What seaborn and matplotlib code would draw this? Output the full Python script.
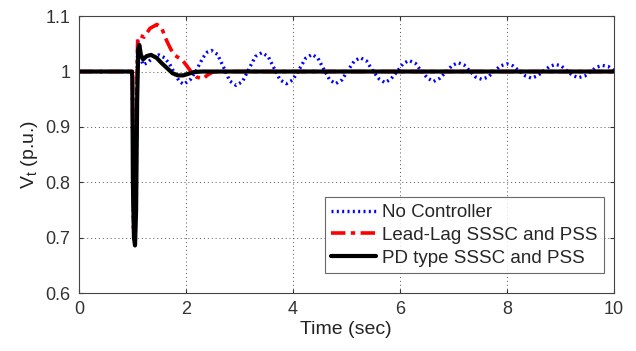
import matplotlib
matplotlib.use('Agg')
import matplotlib.pyplot as plt
import pandas as pd
import seaborn as sns

# values
t_none = [0.0, 1.0, 1.02, 1.05, 1.08, 1.10, 1.14, 1.20, 1.28, 1.40, 1.50, 1.60, 1.70, 1.80, 1.88, 1.96,
          2.08, 2.20, 2.32, 2.40, 2.48, 2.59, 2.71, 2.82, 2.94, 3.06, 3.18, 3.30, 3.42, 3.54, 3.65, 3.76,
          3.88, 4.00, 4.12, 4.24, 4.36, 4.47, 4.58, 4.69, 4.80, 4.92, 5.03, 5.15, 5.26, 5.38, 5.49, 5.61,
          5.72, 5.83, 5.95, 6.06, 6.17, 6.29, 6.40, 6.52, 6.63, 6.75, 6.86, 6.98, 7.09, 7.20, 7.31, 7.42,
          7.53, 7.65, 7.76, 7.88, 8.00, 8.12, 8.23, 8.35, 8.46, 8.57, 8.69, 8.80, 8.91, 9.02, 9.13, 9.23,
          9.34, 9.46, 9.57, 9.68, 9.79, 9.90, 10.0]
v_none = [1.0, 1.0, 0.72, 0.70, 0.95, 1.055, 1.03, 1.012, 1.016, 1.026, 1.030, 1.025, 1.013, 0.995, 0.982, 0.977,
          0.985, 1.003, 1.025, 1.035, 1.038, 1.031, 1.007, 0.983, 0.975, 0.982, 1.005, 1.027, 1.034, 1.027, 1.006, 0.985,
          0.978, 0.985, 1.004, 1.024, 1.031, 1.024, 1.004, 0.985, 0.978, 0.985, 1.002, 1.019, 1.025, 1.019, 1.002, 0.987,
          0.980, 0.986, 1.000, 1.014, 1.020, 1.015, 1.001, 0.988, 0.982, 0.988, 0.999, 1.011, 1.016, 1.012, 1.001, 0.990,
          0.986, 0.990, 1.000, 1.010, 1.014, 1.010, 1.001, 0.992, 0.988, 0.992, 1.001, 1.009, 1.013, 1.010, 1.001, 0.993,
          0.989, 0.992, 1.000, 1.008, 1.011, 1.009, 1.002]

t_leadlag = [0.0, 1.0, 1.02, 1.05, 1.08, 1.10, 1.15, 1.22, 1.33, 1.46, 1.55, 1.64, 1.72, 1.80, 1.94, 2.02,
             2.11, 2.20, 2.32, 2.41, 2.50, 2.60, 10.0]
v_leadlag = [1.0, 1.0, 0.72, 0.69, 0.95, 1.06, 1.065, 1.062, 1.078, 1.085, 1.078, 1.056, 1.040, 1.029, 1.020, 1.010,
             0.998, 0.990, 0.987, 0.994, 0.999, 1.0, 1.0]

t_pd = [0.0, 0.99, 1.0, 1.01, 1.03, 1.05, 1.07, 1.09, 1.11, 1.13, 1.16, 1.20, 1.27, 1.35, 1.45, 1.55,
        1.64, 1.75, 1.85, 1.95, 2.05, 2.15, 2.30, 10.0]
v_pd = [1.0, 1.0, 0.99, 0.80, 0.70, 0.686, 0.75, 0.95, 1.04, 1.048, 1.03, 1.022, 1.028, 1.03, 1.025, 1.015,
        1.007, 0.997, 0.993, 0.993, 0.996, 0.999, 1.0, 1.0]

labels = ['No Controller', 'Lead-Lag SSSC and PSS', 'PD type SSSC and PSS']

sns.set_style('white')
plt.rcParams['font.family'] = ['Liberation Sans', 'DejaVu Sans']
plt.rcParams['mathtext.fontset'] = 'custom'
plt.rcParams['mathtext.rm'] = 'Liberation Sans'
plt.rcParams['mathtext.it'] = 'Liberation Sans'

fig = plt.figure(figsize=(6.36, 3.51), dpi=100)
ax = fig.add_axes([0.124, 0.165, 0.841, 0.789])

sns.lineplot(x=t_none, y=v_none, ax=ax, color='#0000ff', linestyle=(0, (0.6, 1.0)),
             linewidth=2.4, label=labels[0])
sns.lineplot(x=t_leadlag, y=v_leadlag, ax=ax, color='#ff0000', linestyle=(0, (4, 1.5, 1.2, 1.5)),
             linewidth=2.6, label=labels[1])
sns.lineplot(x=t_pd, y=v_pd, ax=ax, color='black', linewidth=3.0, label=labels[2])

ax.set_xlim(0, 10)
ax.set_ylim(0.6, 1.1)
ax.set_xticks([0, 2, 4, 6, 8, 10])
ax.set_yticks([0.6, 0.7, 0.8, 0.9, 1.0, 1.1])
ax.set_yticklabels(['0.6', '0.7', '0.8', '0.9', '1', '1.1'])
ax.grid(True, color='#555555', linestyle=(0, (1, 3)), linewidth=0.7)
ax.tick_params(direction='in', length=3, labelsize=13, colors='#333333', top=True, right=True,
               bottom=True, left=True, pad=6)
for s in ax.spines.values():
    s.set_color('#444444')
    s.set_linewidth(0.8)

ax.set_xlabel('Time (sec)', fontsize=14, color='#222222', labelpad=2)
ax.set_ylabel(r'V$_\mathregular{t}$ (p.u.)', fontsize=14, color='#222222', labelpad=4)

leg = ax.legend(loc='lower right', bbox_to_anchor=(0.982, 0.072), fontsize=13.5, frameon=True,
                fancybox=False, handlelength=2.4, handletextpad=0.3, borderpad=0.35,
                labelspacing=0.3, borderaxespad=0)
leg.get_frame().set_edgecolor('#444444')
leg.get_frame().set_linewidth(0.8)

fig.savefig('out.png', dpi=100)
